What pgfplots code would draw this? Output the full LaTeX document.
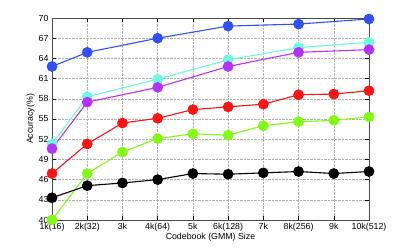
\documentclass[border=0pt]{standalone}
\usepackage{fontspec}
\setmainfont{Liberation Sans}
\usepackage{pgfplots}
\pgfplotsset{compat=1.18}
\definecolor{cblue}{RGB}{50,80,250}
\definecolor{ccyan}{RGB}{110,250,220}
\definecolor{cpurp}{RGB}{180,50,250}
\definecolor{cred}{RGB}{250,20,20}
\definecolor{cgreen}{RGB}{130,250,20}
\begin{document}
\begin{tikzpicture}
\useasboundingbox (0,0) rectangle (407pt,249pt);
\begin{axis}[
  at={(52pt,29pt)}, anchor=south west,
  scale only axis, width=317pt, height=202pt,
  xmin=1, xmax=10, ymin=40, ymax=70,
  xtick={1,...,10},
  xticklabels={1k(16),2k(32),3k,4k(64),5k,6k(128),7k,8k(256),9k,10k(512)},
  ytick={40,43,...,70},
  grid=major,
  major grid style={gray!60, densely dotted, line width=0.4pt},
  tick style={black, line width=0.4pt},
  axis line style={black!70, line width=0.8pt},
  tick label style={font=\fontsize{8.8}{10}\selectfont},
  /pgf/number format/assume math mode=true,
  xlabel={Codebook (GMM) Size},
  ylabel={Accuracy(\%)},
  label style={font=\fontsize{8.8}{10}\selectfont},
  xlabel style={yshift=5pt},
  ylabel style={yshift=-3pt},
  clip=false,
  every axis plot/.append style={line width=1.1pt, mark=*, mark size=4.8pt, mark options={draw=black, line width=1.1pt}},
]
\addplot[color=cblue, mark options={fill=cblue}] coordinates {(1,62.8)(2,64.9)(4,67.0)(6,68.8)(8,69.1)(10,69.85)};
\addplot[color=ccyan, mark options={fill=ccyan}] coordinates {(1,51.3)(2,58.3)(4,60.9)(6,63.8)(8,65.6)(10,66.4)};
\addplot[color=cpurp, mark options={fill=cpurp}] coordinates {(1,50.6)(2,57.5)(4,59.7)(6,62.8)(8,64.9)(10,65.3)};
\addplot[color=cred, mark options={fill=cred}] coordinates {(1,46.9)(2,51.3)(3,54.4)(4,55.1)(5,56.4)(6,56.8)(7,57.2)(8,58.6)(9,58.7)(10,59.2)};
\addplot[color=cgreen, mark options={fill=cgreen}] coordinates {(1,40.0)(2,46.9)(3,50.1)(4,52.1)(5,52.8)(6,52.6)(7,54.0)(8,54.6)(9,54.8)(10,55.3)};
\addplot[color=black, mark options={fill=black}] coordinates {(1,43.3)(2,45.1)(3,45.5)(4,46.0)(5,46.9)(6,46.8)(7,47.0)(8,47.2)(9,46.9)(10,47.2)};
\end{axis}
\end{tikzpicture}
\end{document}
